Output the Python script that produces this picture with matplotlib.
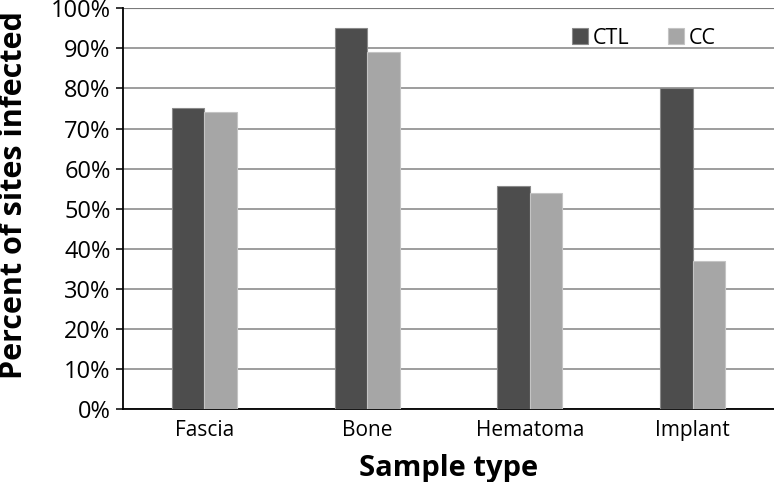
import numpy as np
import matplotlib
matplotlib.use('Agg')
from matplotlib import pyplot as plt
from matplotlib.ticker import PercentFormatter

categories = ['Fascia', 'Bone', 'Hematoma', 'Implant']
ctl = [75, 95, 55.6, 80]
cc = [74, 89, 53.8, 37]
yticks = list(range(0, 101, 10))

plt.rcParams['font.family'] = ['Open Sans', 'DejaVu Sans']

fig = plt.figure(figsize=(7.74, 4.82), dpi=100)
ax = fig.add_axes([0.159, 0.151, 0.841, 0.832])

x = np.arange(len(categories))
w = 0.2
ax.bar(x - w / 2, ctl, w, color='#4d4d4d', edgecolor='#8a8a8a', linewidth=0.8, label='CTL', zorder=3)
ax.bar(x + w / 2, cc, w, color='#a6a6a6', edgecolor='#c4c4c4', linewidth=0.8, label='CC', zorder=3)

ax.set_xlim(-0.5, 3.5)
ax.set_ylim(0, 100)
ax.set_yticks(yticks)
ax.yaxis.set_major_formatter(PercentFormatter(decimals=0))
ax.set_xticks(x)
ax.set_xticklabels(categories)
ax.grid(axis='y', color='#8c8c8c', linewidth=1.2, zorder=0)
ax.axhline(100, color='#222222', linewidth=1.5, zorder=1)

for s in ['right', 'top']:
    ax.spines[s].set_visible(False)
ax.spines['left'].set_linewidth(1.3)
ax.spines['bottom'].set_linewidth(1.3)

ax.tick_params(axis='y', labelsize=17, length=5, width=1.1, direction='out', pad=4)
ax.tick_params(axis='x', labelsize=15, length=0, pad=8)
ax.set_xlabel('Sample type', fontsize=21, fontweight='bold', labelpad=9)
ax.set_ylabel('Percent of sites infected', fontsize=22, fontweight='bold')
ax.yaxis.set_label_coords(-0.144, 0.535)

ax.legend(loc='upper right', bbox_to_anchor=(0.94, 1.0), ncol=2, frameon=False,
          fontsize=15.5, handlelength=0.75, handleheight=0.75, handletextpad=0.2,
          columnspacing=1.8)

fig.savefig('out.png', dpi=100)
